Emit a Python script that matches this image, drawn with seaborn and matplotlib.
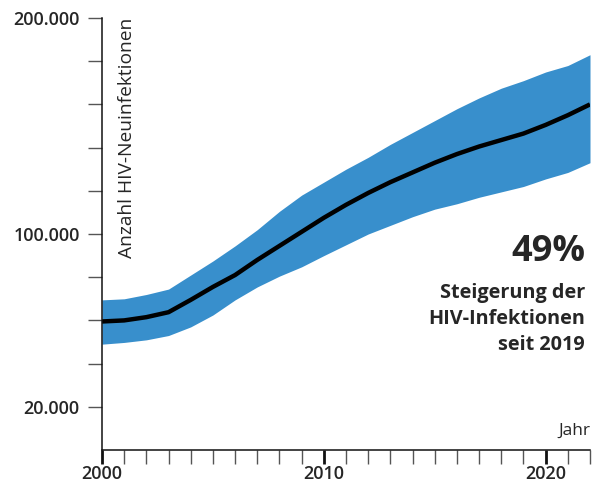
import numpy as np
import pandas as pd
import seaborn as sns
import matplotlib.pyplot as plt
from matplotlib.ticker import FixedLocator, FuncFormatter

# Geschätzte HIV-Neuinfektionen
jahre = list(range(2000, 2023))
mittel = [59.5, 60, 61.5, 63.8, 69.5, 75.5, 81, 88, 94.5, 101, 107.5, 113.5,
          119, 124, 128.5, 133, 137, 140.5, 143.5, 146.5, 150.5, 155, 160]
oben = [69.5, 70, 72, 74.5, 81, 87.5, 94.5, 102, 110.5, 118, 124, 130,
        135.5, 141.5, 147, 152.5, 158, 163, 167.5, 171, 175, 178, 183]
unten = [49, 49.8, 51, 53, 57, 62.5, 69.5, 75.5, 80.5, 84.8, 90, 95,
         100, 104, 108, 111.5, 114, 117, 119.5, 122, 125.5, 128.5, 133]

y_labels = [20000, 100000, 200000]
y_minor = [40000, 60000, 80000, 120000, 140000, 160000, 180000]
x_labels = [2000, 2010, 2020]

df = pd.DataFrame({
    "Jahr": jahre,
    "mittel": np.array(mittel) * 1000,
    "oben": np.array(oben) * 1000,
    "unten": np.array(unten) * 1000,
})

sns.set_style("ticks")
plt.rcParams["font.family"] = ["Open Sans", "DejaVu Sans"]

fig = plt.figure(figsize=(5.97, 4.83), dpi=100)
ax = fig.add_axes([102 / 597, 33 / 483, 488 / 597, 432 / 483])

ax.fill_between(df["Jahr"], df["unten"], df["oben"], color="#388fcc", lw=0)
sns.lineplot(data=df, x="Jahr", y="mittel", color="black", lw=3.2, ax=ax,
             solid_joinstyle="round", solid_capstyle="butt")

ax.set_xlim(2000, 2022)
ax.set_ylim(0, 200000)
sns.despine(ax=ax)
for s in ["left", "bottom"]:
    ax.spines[s].set_linewidth(1.1)
    ax.spines[s].set_color("#111111")

ax.yaxis.set_major_locator(FixedLocator(y_labels))
ax.yaxis.set_minor_locator(FixedLocator(y_minor))
ax.yaxis.set_major_formatter(FuncFormatter(lambda v, p: f"{v:,.0f}".replace(",", ".")))
ax.xaxis.set_major_locator(FixedLocator(x_labels))
ax.xaxis.set_minor_locator(FixedLocator([j for j in jahre if j not in x_labels]))

ax.tick_params(axis="both", which="both", direction="out", length=10,
               width=1, color="#555555")
ax.tick_params(axis="x", which="major", width=2, color="#111111")
ax.tick_params(axis="y", which="major", labelsize=13, pad=6)
ax.tick_params(axis="x", which="major", labelsize=13, pad=1)
for lab in ax.get_xticklabels() + ax.get_yticklabels():
    lab.set_fontweight("semibold")

ax.set_xlabel("")
ax.set_ylabel("")

ax.text(0.052, 1.0, "Anzahl HIV-Neuinfektionen", rotation=90, va="top",
        ha="center", fontsize=13.8, transform=ax.transAxes)
ax.text(1.0, 0.045, "Jahr", ha="right", va="center", fontsize=12.5,
        transform=ax.transAxes)

ax.text(0.99, 0.458, "49%", ha="right", va="center", fontsize=26,
        fontweight="bold", transform=ax.transAxes)
ax.text(0.99, 0.303, "Steigerung der\nHIV-Infektionen\nseit 2019", ha="right",
        va="center", fontsize=14.3, fontweight="bold", linespacing=1.4,
        transform=ax.transAxes)

plt.savefig("out.png", dpi=100)
